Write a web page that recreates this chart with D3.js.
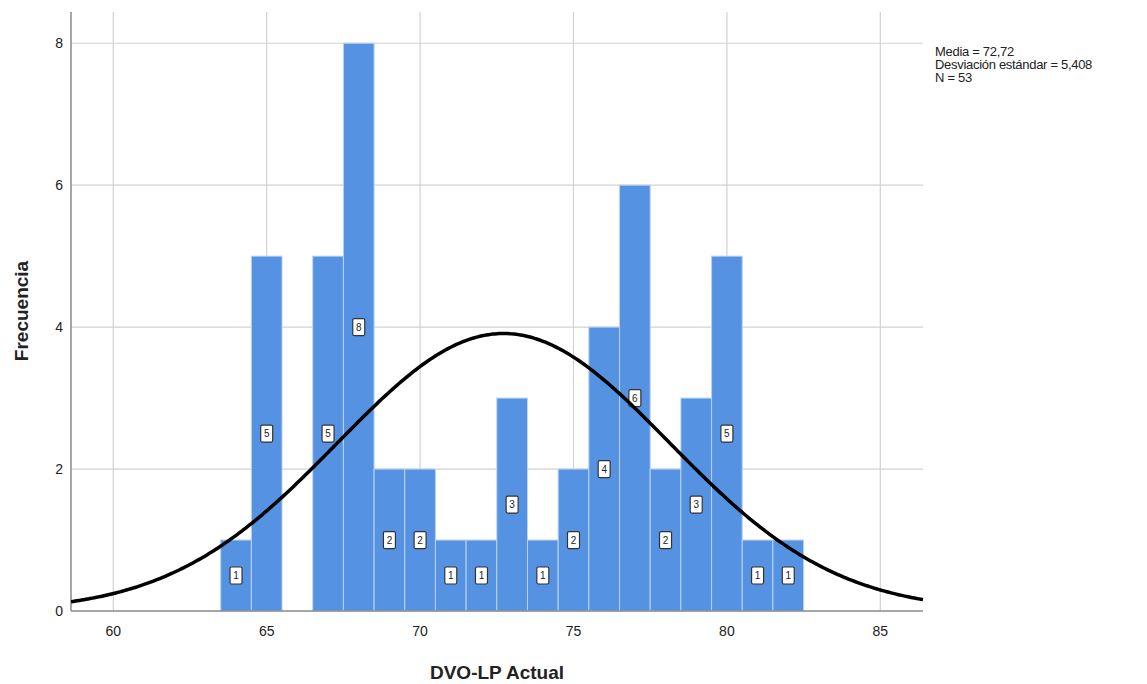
<!DOCTYPE html>
<html>
<head>
<meta charset="utf-8">
<script src="https://cdn.jsdelivr.net/npm/d3@7"></script>
<style>
  html, body { margin: 0; padding: 0; background: #fff; }
  svg { display: block; font-family: "Liberation Sans", Arial, sans-serif; }
</style>
</head>
<body>
<svg id="chart" width="1147" height="684"></svg>
<script>
// Histogram of DVO-LP Actual with fitted normal curve
const binCenters = [64, 65, 66, 67, 68, 69, 70, 71, 72, 73, 74, 75, 76, 77, 78, 79, 80, 81, 82];
const counts     = [1, 5, 0, 5, 8, 2, 2, 1, 1, 3, 1, 2, 4, 6, 2, 3, 5, 1, 1];
const xTicks = [60, 65, 70, 75, 80, 85];
const yTicks = [0, 2, 4, 6, 8];
const mean = 72.72;
const sd = 5.408;
const n = 53;
const binWidth = 1;
const statsLines = ["Media = 72,72", "Desviación estándar = 5,408", "N = 53"];

const svg = d3.select("#chart");
const plotL = 71, plotR = 923, plotT = 12, plotB = 611;

const x = d3.scaleLinear().domain([60, 85]).range([113.3, 880.3]);
const y = d3.scaleLinear().domain([0, 8.44]).range([plotB, plotT]);
const xMin = x.invert(plotL), xMax = x.invert(plotR);

// grid lines
const grid = svg.append("g");
grid.selectAll("line.v").data(xTicks).join("line")
  .attr("class", "v")
  .attr("x1", d => x(d)).attr("x2", d => x(d))
  .attr("y1", plotT).attr("y2", plotB)
  .attr("stroke", "#d2d2d2").attr("stroke-width", 1.2);
grid.selectAll("line.h").data(yTicks.filter(d => d > 0)).join("line")
  .attr("class", "h")
  .attr("x1", plotL).attr("x2", plotR)
  .attr("y1", d => y(d)).attr("y2", d => y(d))
  .attr("stroke", "#d2d2d2").attr("stroke-width", 1.2);

// bars
const bins = binCenters.map((c, i) => ({ c, v: counts[i] })).filter(d => d.v > 0);
svg.append("g").selectAll("rect").data(bins).join("rect")
  .attr("x", d => x(d.c - binWidth / 2))
  .attr("width", d => x(d.c + binWidth / 2) - x(d.c - binWidth / 2))
  .attr("y", d => y(d.v))
  .attr("height", d => y(0) - y(d.v))
  .attr("fill", "#5593e2")
  .attr("stroke", "#b9d2f3")
  .attr("stroke-width", 1);

// value labels at half bar height
const lab = svg.append("g").selectAll("g").data(bins).join("g")
  .attr("transform", d => `translate(${x(d.c)},${y(d.v / 2)})`);
lab.append("rect")
  .attr("x", -6).attr("y", -8.5).attr("width", 12).attr("height", 17)
  .attr("rx", 1.5)
  .attr("fill", "#fff").attr("stroke", "#333").attr("stroke-width", 1.2);
lab.append("text")
  .attr("text-anchor", "middle").attr("dy", "0.35em")
  .attr("font-size", 10).attr("fill", "#222")
  .text(d => d.v);

// axes lines
svg.append("line").attr("x1", plotL).attr("x2", plotL).attr("y1", plotT).attr("y2", plotB)
  .attr("stroke", "#8a8a8a").attr("stroke-width", 1.5);
svg.append("line").attr("x1", plotL).attr("x2", plotR).attr("y1", plotB).attr("y2", plotB)
  .attr("stroke", "#8a8a8a").attr("stroke-width", 1.5);

// normal curve
const pdf = v => n * binWidth * Math.exp(-0.5 * ((v - mean) / sd) ** 2) / (sd * Math.sqrt(2 * Math.PI));
const xs = d3.range(0, 401).map(i => xMin + (xMax - xMin) * i / 400);
svg.append("path")
  .datum(xs)
  .attr("d", d3.line().x(d => x(d)).y(d => y(pdf(d))))
  .attr("fill", "none").attr("stroke", "#000").attr("stroke-width", 3.5);

// tick labels
svg.append("g").selectAll("text").data(xTicks).join("text")
  .attr("x", d => x(d)).attr("y", 636)
  .attr("text-anchor", "middle").attr("font-size", 14).attr("fill", "#222")
  .text(d => d);
svg.append("g").selectAll("text").data(yTicks).join("text")
  .attr("x", 63).attr("y", d => y(d)).attr("dy", "0.35em")
  .attr("text-anchor", "end").attr("font-size", 14).attr("fill", "#222")
  .text(d => d);

// axis titles
svg.append("text").attr("x", 497).attr("y", 679)
  .attr("text-anchor", "middle").attr("font-size", 19).attr("font-weight", "bold")
  .attr("fill", "#222").text("DVO-LP Actual");
svg.append("text")
  .attr("transform", "translate(28,311) rotate(-90)")
  .attr("text-anchor", "middle").attr("font-size", 19).attr("font-weight", "bold")
  .attr("fill", "#222").text("Frecuencia");

// summary statistics
svg.append("g").selectAll("text").data(statsLines).join("text")
  .attr("x", 935).attr("y", (d, i) => 56 + i * 13)
  .attr("font-size", 13).attr("letter-spacing", -0.3).attr("fill", "#222")
  .text(d => d);
</script>
</body>
</html>
